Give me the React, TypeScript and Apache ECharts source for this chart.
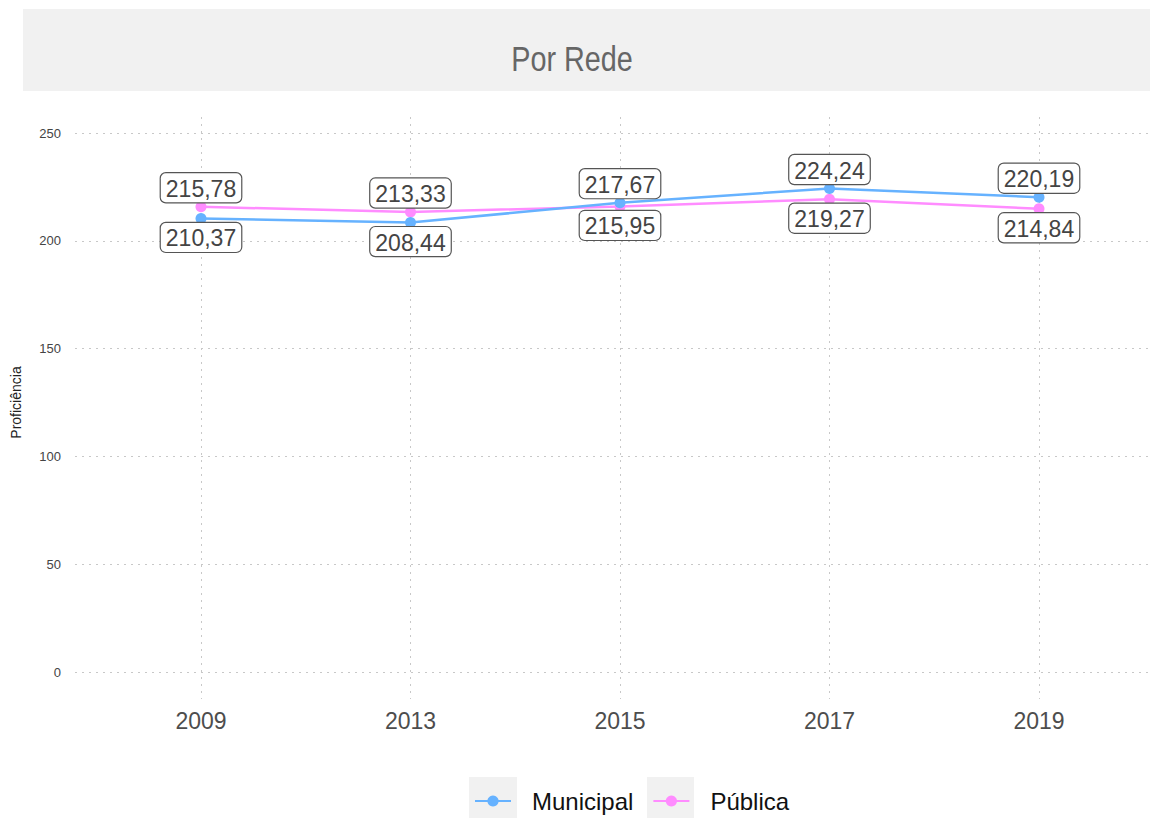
import React, { useEffect, useRef } from "react";
import * as echarts from "echarts";

const years = ["2009", "2013", "2015", "2017", "2019"];
const municipal = [210.37, 208.44, 217.67, 224.24, 220.19];
const publica = [215.78, 213.33, 215.95, 219.27, 214.84];
const seriesNames = ["Municipal", "Pública"];
const colors = ["#66B2FF", "#FF8CFF"];
const chartTitle = "Por Rede";
const yAxisTitle = "Proficiência";

const fmt = (v: number) => v.toFixed(2).replace(".", ",");

export default function App() {
  const ref = useRef<HTMLDivElement>(null);
  useEffect(() => {
    if (!ref.current) return;
    const chart = echarts.init(ref.current, null, { renderer: "svg" });
    const labelBase = {
      show: true,
      fontFamily: "Liberation Sans",
      fontSize: 23,
      color: "#444",
      backgroundColor: "#fff",
      borderColor: "#555",
      borderWidth: 1.2,
      borderRadius: 5,
      padding: [4, 5, 2, 5],
      distance: -1,
      formatter: (p: any) => fmt(p.value),
    };
    const mk = (vals: number[], other: number[]) =>
      vals.map((v, i) => ({
        value: v,
        label: { position: v >= other[i] ? "top" : "bottom" },
      }));
    chart.setOption({
      animation: false,
      backgroundColor: "#fff",
      graphic: [
        { type: "rect", z: -1, shape: { x: 23, y: 9, width: 1127, height: 82 }, style: { fill: "#F1F1F1" } },
        {
          type: "text",
          x: 572,
          y: 58,
          scaleX: 0.8,
          style: {
            text: chartTitle,
            fontFamily: "Liberation Sans",
            fontSize: 36,
            fill: "#666",
            textAlign: "center",
            textVerticalAlign: "middle",
          },
        },
        { type: "rect", z: -1, shape: { x: 469, y: 777, width: 48, height: 41 }, style: { fill: "#F1F1F1" } },
        { type: "rect", z: -1, shape: { x: 647, y: 777, width: 47, height: 41 }, style: { fill: "#F1F1F1" } },
      ],
      legend: {
        data: seriesNames,
        left: 469,
        top: 784,
        itemWidth: 36,
        itemHeight: 14,
        itemGap: 19,
        textStyle: {
          fontFamily: "Liberation Sans",
          fontSize: 24,
          color: "#111",
          padding: [0, 0, 0, 16],
        },
      },
      grid: [
        { left: 75, right: 0, top: 133, bottom: 146, containLabel: false },
        { left: 201, right: 111, top: 117, bottom: 119, containLabel: false },
      ],
      xAxis: [
        { gridIndex: 0, type: "category", data: years, show: false },
        {
          gridIndex: 1,
          type: "category",
          data: years,
          boundaryGap: false,
          axisLine: { show: false },
          axisTick: { show: false },
          axisLabel: { fontFamily: "Liberation Sans", fontSize: 23, color: "#4d4d4d", margin: 10 },
          splitLine: { show: true, lineStyle: { type: [2, 5], color: "#c8c8c8", width: 1 } },
        },
      ],
      yAxis: [
        {
          gridIndex: 0,
          type: "value",
          min: 0,
          max: 250,
          interval: 50,
          name: yAxisTitle,
          nameLocation: "middle",
          nameGap: 52,
          nameTextStyle: { fontFamily: "Liberation Sans", fontSize: 14, color: "#222" },
          axisLine: { show: false },
          axisTick: { show: false },
          axisLabel: { fontFamily: "Liberation Sans", fontSize: 13, color: "#444", margin: 14 },
          splitLine: { show: true, lineStyle: { type: [2, 5], color: "#c8c8c8", width: 1 } },
        },
        {
          gridIndex: 1,
          type: "value",
          min: -12.5,
          max: 257.4,
          show: false,
          splitLine: { show: false },
        },
      ],
      series: [
        {
          name: seriesNames[0],
          type: "line",
          xAxisIndex: 1,
          yAxisIndex: 1,
          data: mk(municipal, publica),
          color: colors[0],
          symbol: "circle",
          symbolSize: 11,
          lineStyle: { width: 2.5, color: colors[0] },
          itemStyle: { color: colors[0] },
          label: labelBase,
          z: 3,
        },
        {
          name: seriesNames[1],
          type: "line",
          xAxisIndex: 1,
          yAxisIndex: 1,
          data: mk(publica, municipal),
          color: colors[1],
          symbol: "circle",
          symbolSize: 11,
          lineStyle: { width: 2.5, color: colors[1] },
          itemStyle: { color: colors[1] },
          label: labelBase,
          z: 2,
        },
      ],
    });
    return () => chart.dispose();
  }, []);
  return (
    <div
      ref={ref}
      style={{ position: "fixed", left: 0, top: 0, width: 1150, height: 818 }}
    />
  );
}
